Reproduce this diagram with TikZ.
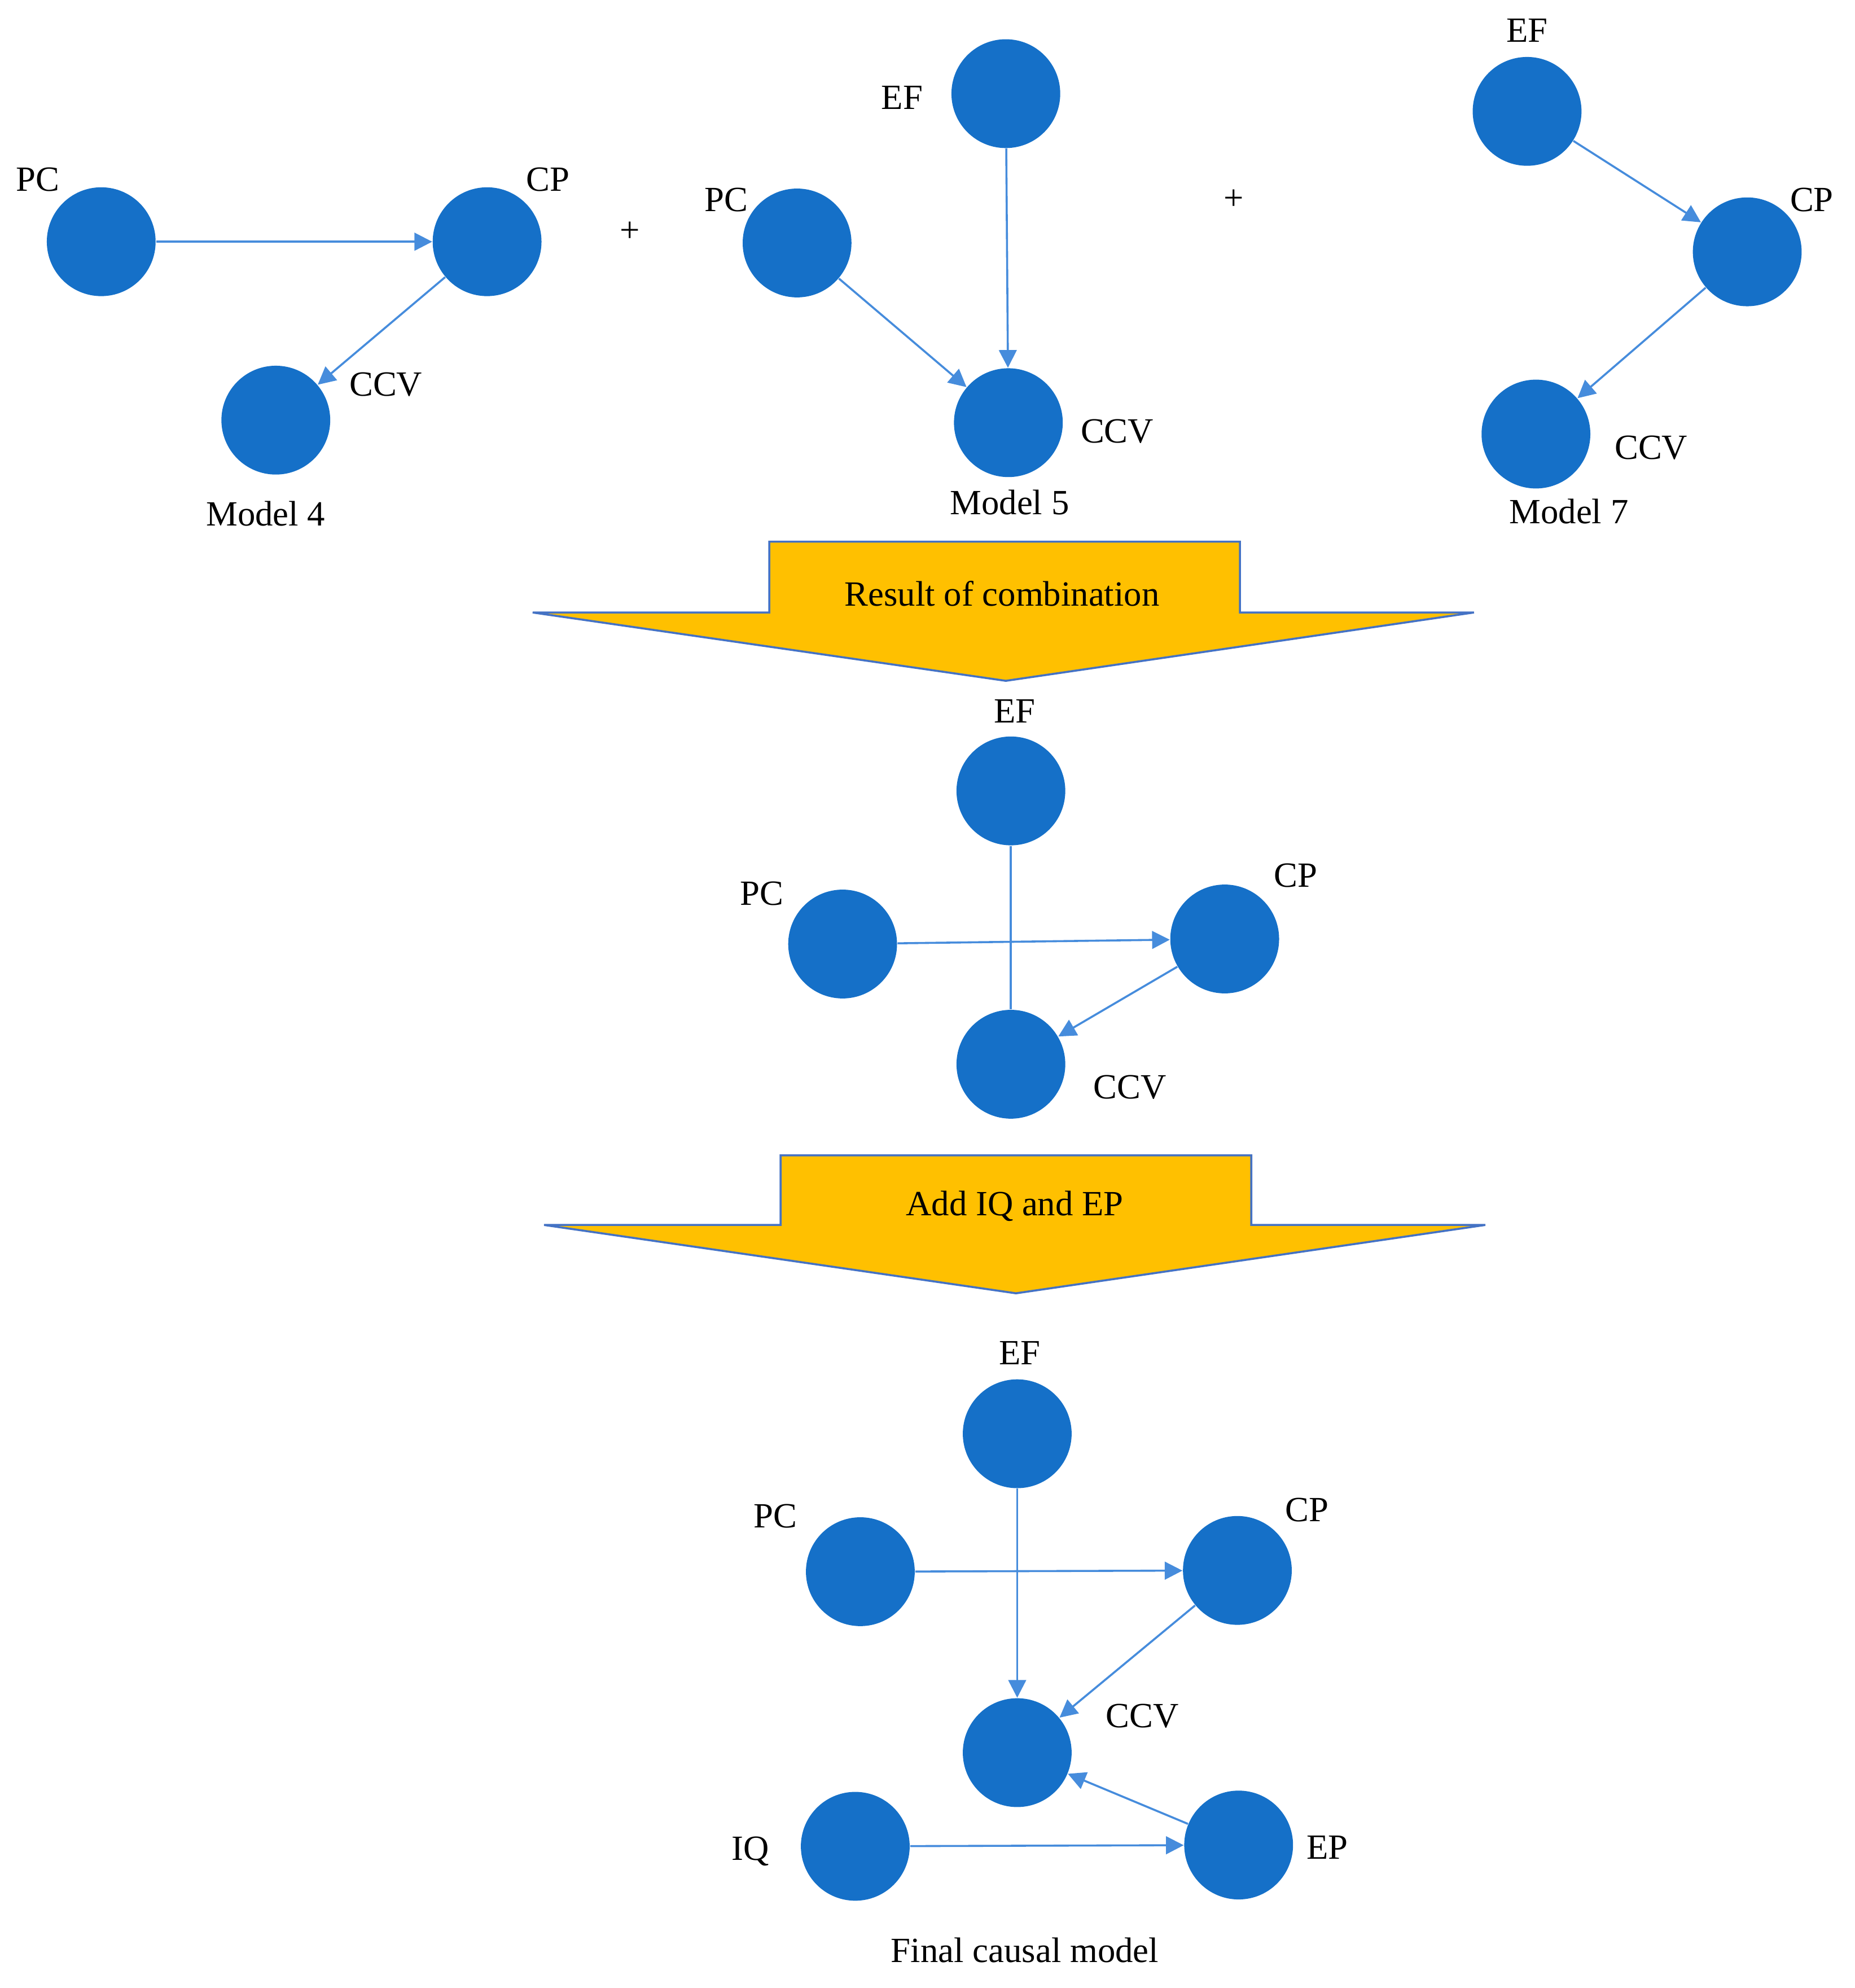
\documentclass[tikz,border=0pt]{standalone}
\usepackage{fontspec}
\setmainfont{Liberation Serif}
\usetikzlibrary{arrows.meta}
\definecolor{nodeblue}{RGB}{21,112,200}
\definecolor{arrblue}{RGB}{70,140,220}
\definecolor{gold}{RGB}{255,192,0}
\definecolor{edgeblue}{RGB}{68,114,196}
\begin{document}
\begin{tikzpicture}[x=0.5pt,y=-0.5pt,
  v/.style={circle,fill=nodeblue,minimum size=43pt,inner sep=0pt},
  lab/.style={font=\fontsize{14}{16}\selectfont},
  e/.style={draw=arrblue,line width=0.8pt,-{Triangle[length=7pt,width=7pt]}},
  big/.style={fill=gold,draw=edgeblue,line width=0.8pt}]
\useasboundingbox (0,0) rectangle (1466,1571);
% Model 4
\node[v] (a1) at (80,191) {};
\node[v] (a2) at (385,191) {};
\node[v] (a3) at (218,332) {};
\node[lab] (la1) at (30,142) {PC};
\node[lab] (la2) at (433,142) {CP};
\node[lab] (la3) at (305,304) {CCV};
\node[lab] (m4) at (210,406) {Model 4};
\draw[e] (a1) -- (a2.west);
\draw[e] (a2) -- (a3);
\node[lab] (p1) at (498,183) {+};
% Model 5
\node[v] (b1) at (795,74) {};
\node[v] (b2) at (630,192) {};
\node[v] (b3) at (797,334) {};
\node[lab] (lb1) at (713,77) {EF};
\node[lab] (lb2) at (574,158) {PC};
\node[lab] (lb3) at (883,341) {CCV};
\node[lab] (m5) at (798,397) {Model 5};
\draw[e] (b1) -- (b3);
\draw[e] (b2) -- (b3);
\node[lab] (p2) at (975,158) {+};
% Model 7
\node[v] (c1) at (1207,88) {};
\node[v] (c2) at (1381,199) {};
\node[v] (c3) at (1214,343) {};
\node[lab] (lc1) at (1207,24) {EF};
\node[lab] (lc2) at (1432,158) {CP};
\node[lab] (lc3) at (1305,354) {CCV};
\node[lab] (m7) at (1240,404) {Model 7};
\draw[e] (c1) -- (c2);
\draw[e] (c2) -- (c3);
% Big arrow 1
\draw[big] (608,428) -- (980,428) -- (980,484) -- (1165,484) -- (795,538) -- (421,484) -- (608,484) -- cycle;
\node[lab] (t1) at (792,469) {Result of combination};
% Combined
\node[v] (d1) at (799,625) {};
\node[v] (d2) at (666,746) {};
\node[v] (d3) at (968,742) {};
\node[v] (d4) at (799,841) {};
\node[lab] (ld1) at (802,562) {EF};
\node[lab] (ld2) at (602,706) {PC};
\node[lab] (ld3) at (1024,692) {CP};
\node[lab] (ld4) at (893,859) {CCV};
\draw[draw=arrblue,line width=0.8pt] (d1) -- (d4);
\draw[e] (d2) -- (d3);
\draw[e] (d3) -- (d4);
% Big arrow 2
\draw[big] (617,913) -- (989,913) -- (989,968) -- (1174,968) -- (803,1022) -- (430,968) -- (617,968) -- cycle;
\node[lab] (t2) at (802,953) {Add IQ and EP};
% Final
\node[v] (f1) at (804,1133) {};
\node[v] (f2) at (680,1242) {};
\node[v] (f3) at (978,1241) {};
\node[v] (f4) at (804,1385) {};
\node[v] (f5) at (676,1459) {};
\node[v] (f6) at (979,1458) {};
\node[lab] (lf1) at (806,1069) {EF};
\node[lab] (lf2) at (613,1198) {PC};
\node[lab] (lf3) at (1033,1193) {CP};
\node[lab] (lf4) at (903,1356) {CCV};
\node[lab] (lf5) at (593,1463) {IQ};
\node[lab] (lf6) at (1049,1460) {EP};
\node[lab] (mf) at (810,1541) {Final causal model};
\draw[e] (f1) -- (f4);
\draw[e] (f2) -- (f3);
\draw[e] (f3) -- (f4);
\draw[e] (f6) -- (f4);
\draw[e] (f5) -- (f6);
\end{tikzpicture}
\end{document}
